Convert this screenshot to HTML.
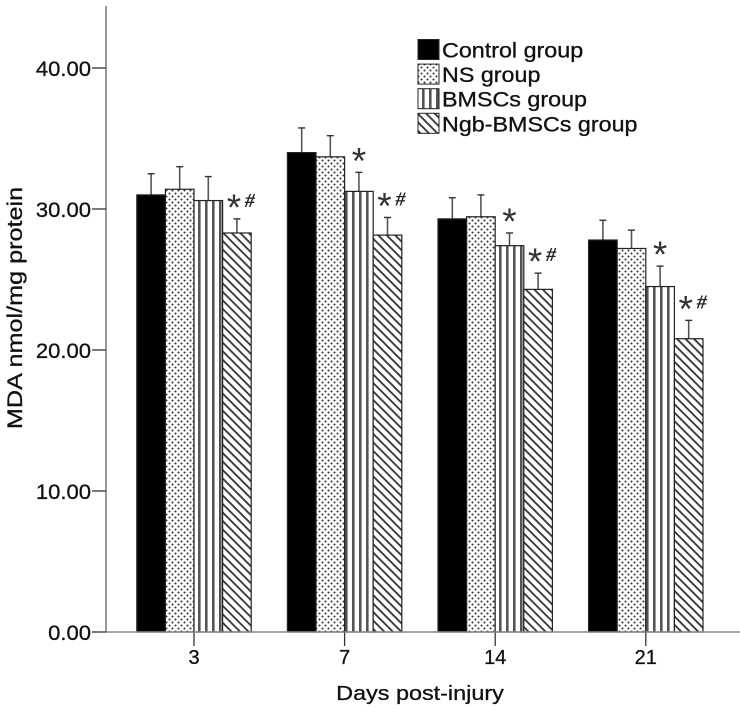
<!DOCTYPE html>
<html lang="en">
<head>
<meta charset="utf-8">
<title>MDA by days post-injury</title>
<style>
html,body{margin:0;padding:0;background:#fff;}
svg{display:block;font-family:"Liberation Sans",Arial,sans-serif;filter:blur(.35px);}
.t{stroke:#111;stroke-width:.3px;fill:#111;}
</style>
</head>
<body>
<svg id="chart" width="740" height="712" viewBox="0 0 740 712" xmlns="http://www.w3.org/2000/svg">
<defs>
<pattern id="p-dots" width="6" height="6" patternUnits="userSpaceOnUse">
<rect width="6" height="6" fill="#fff"/>
<circle cx="1.5" cy="1.5" r="1.05" fill="#333"/>
<circle cx="4.5" cy="4.5" r="1.05" fill="#333"/>
</pattern>
<pattern id="p-vert" width="7" height="7" patternUnits="userSpaceOnUse">
<rect width="7" height="7" fill="#fff"/>
<rect x="2" width="2.6" height="7" fill="#555"/>
</pattern>
<pattern id="p-diag" width="6" height="6" patternUnits="userSpaceOnUse" patternTransform="rotate(45)">
<rect width="6" height="6" fill="#fff"/>
<rect y="0" width="6" height="1.8" fill="#333"/>
</pattern>
</defs>
<g id="plot"></g>
<g id="legend"></g>
</svg>
<script>
const categories = ['3', '7', '14', '21'];
const seriesNames = ['Control group', 'NS group', 'BMSCs group', 'Ngb-BMSCs group'];
const controlValues = [31.0, 34.0, 29.3, 27.8];
const nsValues = [31.4, 33.7, 29.45, 27.2];
const bmscValues = [30.6, 31.25, 27.4, 24.5];
const ngbValues = [28.3, 28.15, 24.3, 20.8];
const controlUpper = [32.5, 35.75, 30.8, 29.2];
const nsUpper = [33.0, 35.2, 31.0, 28.5];
const bmscUpper = [32.3, 32.6, 28.3, 25.95];
const ngbUpper = [29.3, 29.4, 25.45, 22.1];
const bmscMarks = ['', '*', '*', '*'];
const ngbMarks = ['*#', '*#', '*#', '*#'];
const yTicks = [0, 10, 20, 30, 40];
const yTickLabels = ['0.00', '10.00', '20.00', '30.00', '40.00'];
const yAxisTitle = 'MDA nmol/mg protein';
const xAxisTitle = 'Days post-injury';

const NS = 'http://www.w3.org/2000/svg';
const plot = document.getElementById('plot');
const legend = document.getElementById('legend');
const fills = ['#000', 'url(#p-dots)', 'url(#p-vert)', 'url(#p-diag)'];
const allValues = [controlValues, nsValues, bmscValues, ngbValues];
const allUpper = [controlUpper, nsUpper, bmscUpper, ngbUpper];
const allMarks = [null, null, bmscMarks, ngbMarks];

const y = v => 632 - v * 14.1;
const groupX = i => 194 + i * 150.6;
const barW = 28.6;
const barX = (i, s) => groupX(i) + (s - 2) * barW;

function make(parent, tag, attrs, text) {
  const el = document.createElementNS(NS, tag);
  for (const k in attrs) el.setAttribute(k, attrs[k]);
  if (text !== undefined) el.textContent = text;
  parent.appendChild(el);
  return el;
}

const yAxisLine = make(plot, 'line', {x1: 106, x2: 106, y1: 6, y2: y(0), stroke: '#555', 'stroke-width': 1.2});



yTicks.forEach((t, i) => {
  const tick = make(plot, 'line', {x1: 92, x2: 106, y1: y(t), y2: y(t), stroke: '#333', 'stroke-width': 1.3});
  
  
  const label = make(plot, 'text', {transform: 'translate(91,' + (y(t) + 8) + ') scale(1.05,1)', 'text-anchor': 'end', 'font-size': 21, class: 't'}, yTickLabels[i]);
  
  
});

categories.forEach((c, i) => {
  allValues.forEach((vals, s) => {
    const x = barX(i, s);
    const cx = x + barW / 2;
    const top = y(allUpper[s][i]);
    const err = make(plot, 'line', {x1: cx, x2: cx, y1: top, y2: y(vals[i]), stroke: '#555', 'stroke-width': 1.6});
    
    
    const cap = make(plot, 'line', {x1: cx - 3.5, x2: cx + 3.5, y1: top, y2: top, stroke: '#333', 'stroke-width': 1.4});
    
    
    const bar = make(plot, 'rect', {x: x, y: y(vals[i]), width: barW, height: y(0) - y(vals[i]), fill: fills[s], stroke: '#222', 'stroke-width': 1.2});
    
    

    const marks = allMarks[s] ? allMarks[s][i] : '';
    if (marks) {
      const hasHash = marks.includes('#');
      const star = make(plot, 'text', {x: cx - (hasHash ? 3 : 0), y: top + 1, 'text-anchor': 'middle', 'font-size': 37, fill: '#333'}, '*');
      
      
      if (hasHash) {
        const hash = make(plot, 'text', {x: cx + 13, y: top - 12, 'text-anchor': 'middle', 'font-size': 20, 'font-style': 'italic', 'font-weight': 'bold', fill: '#222', 'font-family': '"Liberation Serif",serif'}, '#');
        
        
      }
    }
  });
  const tick = make(plot, 'line', {x1: groupX(i), x2: groupX(i), y1: y(0), y2: y(0) + 14, stroke: '#333', 'stroke-width': 1.3});
  
  
  const label = make(plot, 'text', {x: groupX(i), y: y(0) + 32, 'text-anchor': 'middle', 'font-size': 20, class: 't'}, c);
  
  
});

const xAxisLine = make(plot, 'line', {x1: 106, x2: 740, y1: y(0), y2: y(0), stroke: '#888', 'stroke-width': 1.4});



const yTitle = make(plot, 'text', {transform: 'translate(22,308) rotate(-90) scale(1.2,1)', 'text-anchor': 'middle', 'font-size': 21, class: 't'}, yAxisTitle);


const xTitle = make(plot, 'text', {transform: 'translate(420,700) scale(1.17,1)', 'text-anchor': 'middle', 'font-size': 20, class: 't'}, xAxisTitle);



seriesNames.forEach((n, s) => {
  const ly = 39.5 + s * 24.6;
  const swatch = make(legend, 'rect', {x: 418, y: ly, width: 21, height: 20, fill: fills[s], stroke: '#222', 'stroke-width': 1});
  
  
  const text = make(legend, 'text', {transform: 'translate(442,' + (ly + 18) + ') scale(1.11,1)', 'font-size': 21, class: 't'}, n);
  
  
});
</script>
</body>
</html>
